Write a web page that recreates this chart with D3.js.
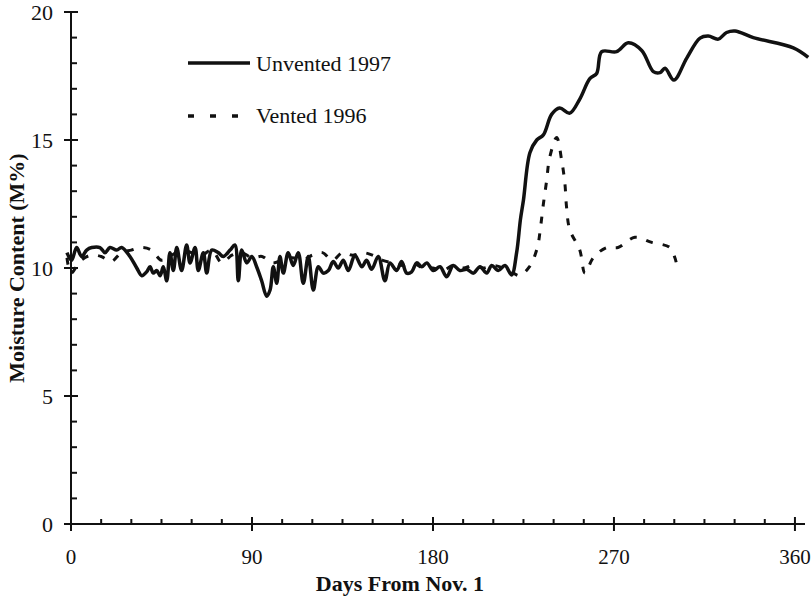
<!DOCTYPE html>
<html>
<head>
<meta charset="utf-8">
<script src="https://cdn.jsdelivr.net/npm/d3@7"></script>
<style>
  body { margin: 0; background: #fff; }
  text { font-family: "Liberation Serif", "Times New Roman", serif; fill: #111; }
</style>
</head>
<body>
<script>
// Unvented 1997 (solid) -- [day, moisture %]
const unvented1997 = [
  [-2, 10.6], [0.3, 10.3], [2.8, 10.8], [5.3, 10.45], [7.8, 10.7], [10.3, 10.8], [14.4, 10.8],
  [16.9, 10.6], [19.4, 10.8], [22.7, 10.7], [25.2, 10.8], [29.3, 10.45], [32.7, 10.0], [35.2, 9.7],
  [37.6, 9.85], [39.3, 10.05], [40.9, 9.8], [42.6, 9.9], [44.3, 9.7], [45.9, 10.05], [47.6, 9.5],
  [49.2, 10.6], [50.9, 9.9], [52.6, 10.8], [55, 9.9], [57.5, 10.9], [59.2, 10.2], [61.7, 10.8],
  [63.3, 9.9], [65.8, 10.6], [67.5, 9.8], [70, 10.7], [73.2, 10.6], [75.7, 10.45], [79.1, 10.7],
  [81.5, 10.9], [83.2, 9.5], [84.9, 10.7], [87.4, 10.2], [89.9, 10.45], [92.3, 10.05], [94.8, 9.5],
  [97.3, 8.9], [99, 9.14], [100.6, 10.05], [102.3, 9.4], [103.9, 10.45], [105.6, 9.8], [108, 10.6],
  [110.5, 10.1], [113, 10.6], [115.5, 9.4], [118, 10.45], [120.5, 9.14], [123, 10.05], [125.5, 9.8],
  [128, 9.9], [130.4, 10.25], [132.9, 10.0], [135.4, 10.3], [137.9, 9.9], [141.2, 10.5], [144.6, 10.05],
  [147, 10.3], [149.5, 9.95], [152.8, 10.45], [156.1, 9.5], [158.6, 10.2], [161.9, 9.9], [164.4, 10.25],
  [166.9, 9.8], [169.4, 9.85], [171.9, 10.2], [174.4, 10.05], [176.9, 10.2], [180.2, 9.9], [183.5, 10.05],
  [186.8, 9.66], [190.1, 10.1], [193.4, 9.9], [196.8, 9.95], [200.1, 9.8], [203.4, 10.05], [206.7, 9.8],
  [209.2, 10.1], [212.5, 9.9], [215.8, 10.1], [219.1, 9.73], [221.6, 10.6], [223.5, 11.9], [225, 12.66],
  [228.2, 14.5], [231.6, 15.0], [234.9, 15.2], [239, 16.0], [243, 16.25], [248, 16.05], [253, 16.6],
  [258, 17.4], [261.4, 17.6], [263.9, 18.45], [271.3, 18.45], [277.1, 18.8], [283.8, 18.5], [289.6, 17.67],
  [292.9, 17.63], [295.4, 17.8], [299.8, 17.34], [306.2, 18.2], [312.8, 18.98], [316.9, 19.06],
  [321.9, 18.94], [326, 19.2], [330.2, 19.26], [339.3, 19.0], [359.2, 18.6], [366.6, 18.23]
];

// Vented 1996 (dashed)
const vented1996 = [
  [-2, 10.4], [0, 9.8], [5, 10.3], [10, 10.5], [15, 10.45], [20, 10.25], [25, 10.6], [30, 10.7],
  [35, 10.8], [40, 10.7], [45, 10.3], [50, 10.5], [55, 10.7], [60, 10.6], [65, 10.5], [70, 10.7],
  [75, 10.2], [80, 10.5], [85, 10.6], [90, 10.4], [95, 10.45], [100, 10.2], [105, 10.3], [110, 10.4],
  [115, 10.3], [120, 10.5], [125, 10.6], [130, 10.3], [135, 10.6], [140, 10.5], [145, 10.6], [150, 10.5],
  [155, 10.3], [160, 10.2], [165, 10.1], [170, 10.2], [175, 10.0], [180, 10.0], [185, 9.9], [190, 10.1],
  [195, 10.0], [200, 10.1], [205, 10.0], [210, 10.1], [215, 10.0], [220, 9.8], [223, 9.7], [228, 10.05],
  [231.9, 10.8], [233.5, 11.6], [234.9, 12.5], [236.5, 13.4], [238, 14.3], [241.5, 15.1], [244, 14.2],
  [245.6, 13.3], [246.4, 12.4], [248, 11.5], [253, 10.7], [255.6, 9.8], [259.7, 10.4], [266.4, 10.8],
  [272, 10.8], [280.4, 11.2], [288.8, 11.0], [297.8, 10.8], [300.3, 10.4], [301, 10.2]
];

const xTicks = [0, 90, 180, 270, 360];
const yTicks = [0, 5, 10, 15, 20];
const legendLabels = ['Unvented 1997', 'Vented 1996'];

const width = 811;
const height = 604;

const svg = d3.select('body').append('svg')
  .attr('width', width)
  .attr('height', height);

const x = d3.scaleLinear().domain([0, 365]).range([71, 805]);
const y = d3.scaleLinear().domain([0, 20]).range([524, 12]);

// minor ticks
const xMinor = d3.range(0, 361, 15).filter(d => d % 90 !== 0);
const yMinor = d3.range(0, 20, 1).filter(d => d % 5 !== 0);

const axes = svg.append('g').attr('stroke', '#111').attr('stroke-width', 2);

axes.append('line')
  .attr('x1', x(0)).attr('x2', x(0)).attr('y1', y(0)).attr('y2', y(20));
axes.append('line')
  .attr('x1', x(0)).attr('x2', x(365)).attr('y1', y(0)).attr('y2', y(0));

// y ticks: major cross the axis, minor inward
axes.selectAll('.ymaj').data(yTicks).enter().append('line')
  .attr('x1', x(0) - 7).attr('x2', x(0) + 7)
  .attr('y1', d => y(d)).attr('y2', d => y(d));
axes.selectAll('.ymin').data(yMinor).enter().append('line')
  .attr('x1', x(0)).attr('x2', x(0) + 6)
  .attr('y1', d => y(d)).attr('y2', d => y(d));

axes.selectAll('.xmaj').data(xTicks).enter().append('line')
  .attr('x1', d => x(d)).attr('x2', d => x(d))
  .attr('y1', y(0) - 7).attr('y2', y(0) + 7);
axes.selectAll('.xmin').data(xMinor).enter().append('line')
  .attr('x1', d => x(d)).attr('x2', d => x(d))
  .attr('y1', y(0) - 5).attr('y2', y(0));

svg.selectAll('.ylab').data(yTicks).enter().append('text')
  .attr('x', 53).attr('y', d => y(d) + 8)
  .attr('text-anchor', 'end')
  .attr('font-size', 22)
  .text(d => d);

svg.selectAll('.xlab').data(xTicks).enter().append('text')
  .attr('x', d => x(d)).attr('y', 564)
  .attr('text-anchor', 'middle')
  .attr('font-size', 21)
  .text(d => d);

svg.append('text')
  .attr('x', 400).attr('y', 591)
  .attr('text-anchor', 'middle')
  .attr('font-size', 22)
  .attr('font-weight', 'bold')
  .text('Days From Nov. 1');

svg.append('text')
  .attr('transform', 'translate(24, 268) rotate(-90)')
  .attr('text-anchor', 'middle')
  .attr('font-size', 22)
  .attr('font-weight', 'bold')
  .text('Moisture Content (M%)');

const line = d3.line()
  .x(d => x(d[0]))
  .y(d => y(d[1]))
  .curve(d3.curveCatmullRom);

svg.append('path')
  .datum(vented1996)
  .attr('d', line)
  .attr('fill', 'none')
  .attr('stroke', '#111')
  .attr('stroke-width', 3)
  .attr('stroke-dasharray', '7,10');

svg.append('path')
  .datum(unvented1997)
  .attr('d', line)
  .attr('fill', 'none')
  .attr('stroke', '#111')
  .attr('stroke-width', 3.5)
  .attr('stroke-linejoin', 'round');

// legend
const legend = svg.append('g');
legend.append('line')
  .attr('x1', 188).attr('x2', 250).attr('y1', 63).attr('y2', 63)
  .attr('stroke', '#111').attr('stroke-width', 3.5);
legend.append('line')
  .attr('x1', 188).attr('x2', 242).attr('y1', 116).attr('y2', 116)
  .attr('stroke', '#111').attr('stroke-width', 3.5)
  .attr('stroke-dasharray', '6,16');
legend.selectAll('.lt').data(legendLabels).enter().append('text')
  .attr('x', 256).attr('y', (d, i) => 71 + i * 52)
  .attr('font-size', 22)
  .text(d => d);
</script>
</body>
</html>
